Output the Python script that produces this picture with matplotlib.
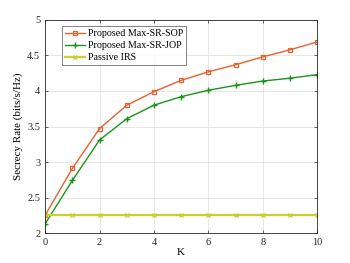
import numpy as np
import matplotlib
matplotlib.use("Agg")
import matplotlib.pyplot as plt

plt.rcParams['font.family'] = ['Liberation Serif', 'DejaVu Serif']
plt.rcParams['mathtext.fontset'] = 'stix'

# Datos
K = [0, 1, 2, 3, 4, 5, 6, 7, 8, 9, 10]
sr_sop = [2.25, 2.91, 3.47, 3.80, 3.99, 4.15, 4.27, 4.37, 4.48, 4.58, 4.69]
sr_jop = [2.13, 2.74, 3.31, 3.61, 3.80, 3.92, 4.01, 4.08, 4.14, 4.18, 4.23]
sr_passive = [2.25] * 11
labels = ["Proposed Max-SR-SOP", "Proposed Max-SR-JOP", "Passive IRS"]

fig = plt.figure(figsize=(3.5, 2.63), dpi=100)
ax = fig.add_axes([0.129, 0.114, 0.777, 0.81])

ax.plot(K, sr_sop, color='#E8612C', lw=1.0, marker='s', ms=3.5, mfc='none', mew=0.9, label=labels[0])
ax.plot(K, sr_jop, color='#1B931B', lw=1.0, marker='+', ms=4.5, mew=1.0, label=labels[1])
ax.plot(K, sr_passive, color='#CDCD2E', lw=1.6, marker='x', ms=3, mew=1.0, label=labels[2])

ax.set_xlim(0, 10)
ax.set_ylim(2, 5)
ax.set_xticks([0, 2, 4, 6, 8, 10])
ax.set_yticks(np.arange(2, 5.01, 0.5))
ax.set_yticklabels(['2', '2.5', '3', '3.5', '4', '4.5', '5'])
ax.grid(True, color='#E3E3E3', lw=0.6)
ax.set_axisbelow(True)
ax.tick_params(direction='in', length=2.5, width=0.5, labelsize=7.5, top=True, right=True, colors='#262626')
for s in ax.spines.values():
    s.set_linewidth(0.6)
    s.set_color('#262626')

ax.set_xlabel("K", fontsize=8, labelpad=1)
ax.set_ylabel("Secrecy Rate (bits/s/Hz)", fontsize=8, labelpad=3)

leg = ax.legend(loc='upper left', bbox_to_anchor=(0.05, 0.985), fontsize=7.2, frameon=True,
                fancybox=False, edgecolor='#262626', borderpad=0.3, labelspacing=0.3,
                handlelength=2.0, handletextpad=0.3, borderaxespad=0.3)
leg.get_frame().set_linewidth(0.5)

plt.savefig("out.png", dpi=100)
